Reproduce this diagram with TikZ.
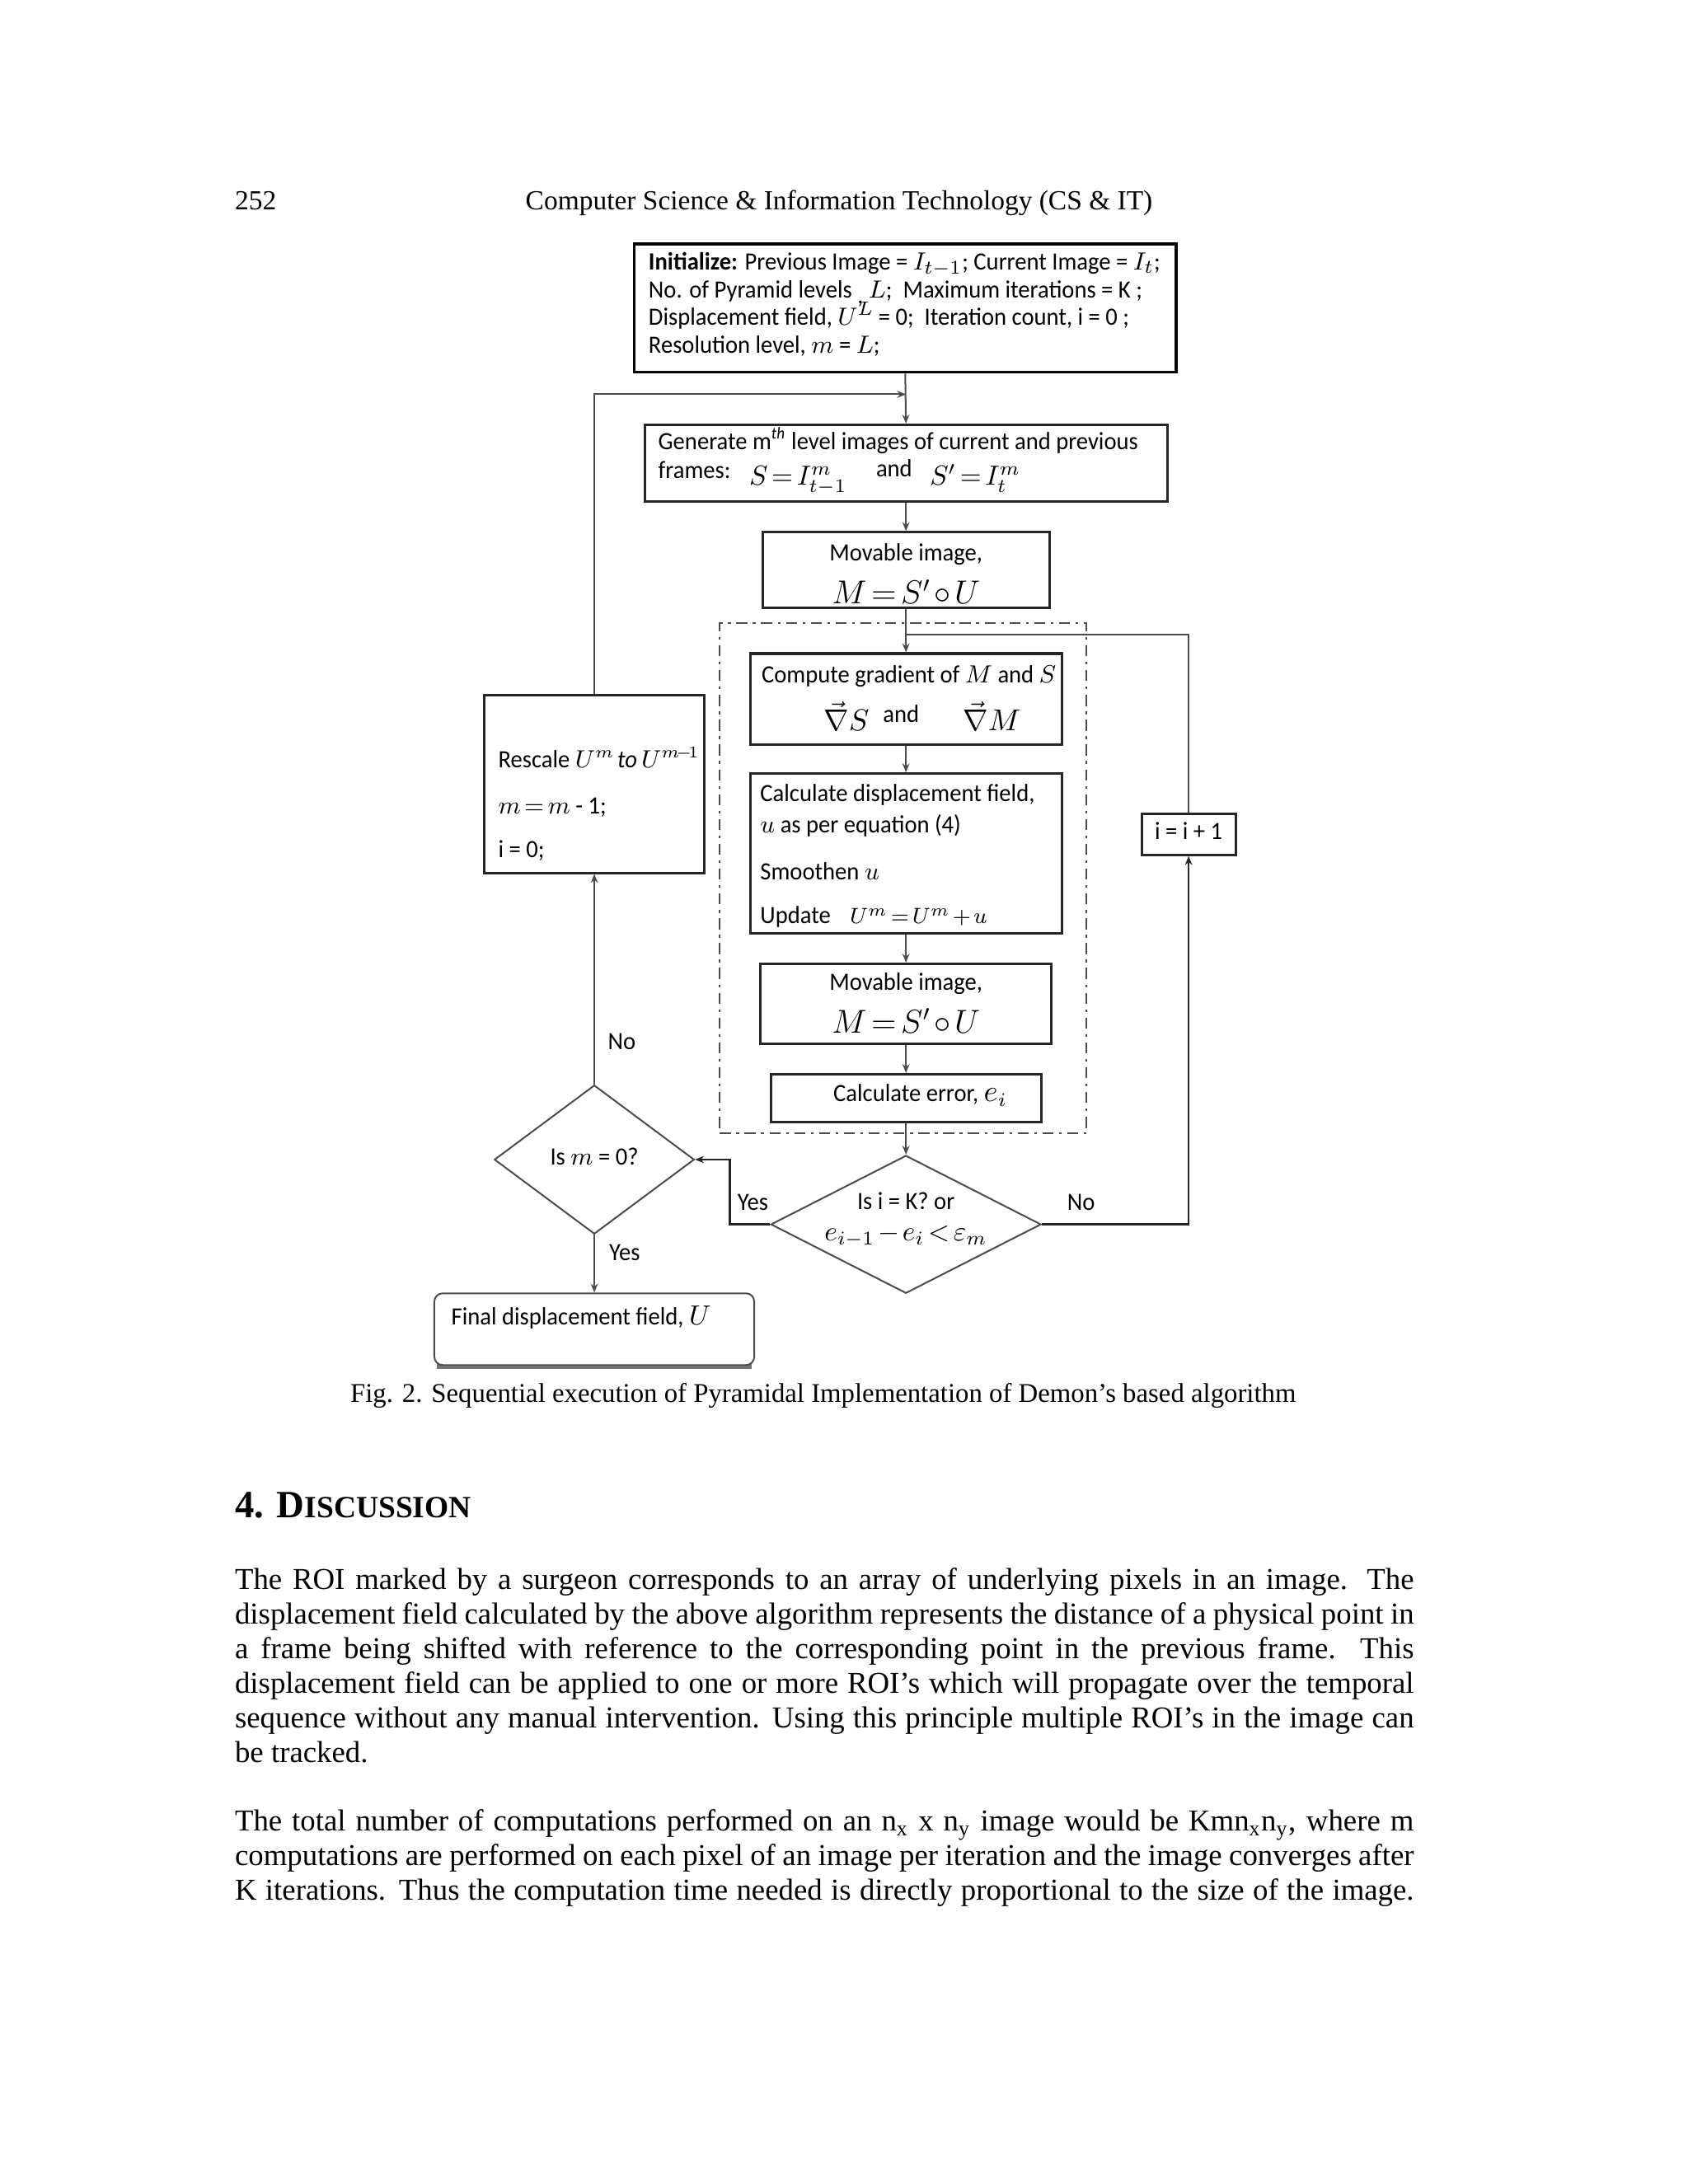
\documentclass[tikz,border=0pt]{standalone}
\usepackage{fontspec}
\setmainfont{Liberation Serif}
\newfontfamily\dgfont{Carlito}[FakeStretch=0.95]
\usetikzlibrary{shapes.geometric,arrows.meta,calc}
\newcommand\dgm[2]{{\fontsize{#1}{#1}\selectfont\thickmuskip=2.5mu plus 1mu\medmuskip=2mu plus 1mu$#2$}}
\tikzset{
  pbox/.style={rectangle, draw=black!85, line width=0.9pt, inner sep=0pt},
  dbox/.style={diamond, draw=black!70, line width=0.6pt, inner sep=0pt},
  conn/.style={draw=black!70, line width=0.6pt},
  arr/.style={conn, -{Stealth[length=3.2pt,width=2.6pt]}},
  dt/.style={font=\dgfont\fontsize{9}{10}\selectfont, inner sep=0pt, anchor=base west},
  dtc/.style={dt, anchor=base},
  bt/.style={font=\fontsize{11}{12.5}\selectfont, inner sep=0pt, anchor=base west},
}
\begin{document}
\begin{tikzpicture}[x=0.5pt,y=-0.5pt]
\fill[white] (0,0) rectangle (1224,1584);
\useasboundingbox (0,0) rectangle (1224,1584);

% header
\node[bt, font=\fontsize{10}{12}\selectfont] (pg) at (170,152) {252};
\node[bt, font=\fontsize{10}{12}\selectfont, anchor=base] (hd) at (608.5,152) {Computer Science \& Information Technology (CS \& IT)};

% group frame
\node[rectangle, draw=black!70, line width=0.6pt, dash pattern=on 4pt off 2pt on 1pt off 2pt,
      minimum width=133pt, minimum height=185pt, inner sep=0pt] (grp) at (655,637) {};

% boxes
\node[pbox, line width=1pt, draw=black, minimum width=196.5pt, minimum height=46.5pt] (init) at (656.5,223.5) {};
\node[pbox, minimum width=189.5pt, minimum height=28pt] (gen) at (657,336) {};
\node[pbox, minimum width=104pt, minimum height=27.5pt] (mov1) at (657,413.5) {};
\node[pbox, minimum width=113pt, minimum height=33pt] (comp) at (657,507) {};
\node[pbox, minimum width=113pt, minimum height=58pt] (calc) at (657,619) {};
\node[pbox, minimum width=105.5pt, minimum height=29pt] (mov2) at (657,728) {};
\node[pbox, minimum width=98pt, minimum height=17.5pt] (err) at (657,796.5) {};
\node[dbox, minimum width=98pt, minimum height=50pt] (d2) at (657,888) {};
\node[dbox, minimum width=72.5pt, minimum height=54pt] (d1) at (431,841) {};
\node[pbox, minimum width=80pt, minimum height=64.5pt] (resc) at (431,568.5) {};
\node[pbox, minimum width=34pt, minimum height=15pt] (inc) at (862,605) {};
\fill[black!55] (317,988) rectangle (545,993);
\node[pbox, draw=black!70, line width=0.6pt, rounded corners=3pt, fill=white, minimum width=116pt, minimum height=26pt] (final) at (431,964) {};

% texts in boxes
\node[dt] (t1) at (470,196) {{\bfseries Initialize:} Previous Image = \dgm{9.5}{I_{t-1}}; Current Image = \dgm{9.5}{I_t};};
\node[dt] (t2) at (470,216) {No. of Pyramid levels \raisebox{-2pt}{,} \dgm{9.5}{L}; \ Maximum iterations = K ;};
\node[dt] (t3) at (470,236) {Displacement field, \dgm{9.5}{U^{L}}\,= 0; \ Iteration count, i = 0 ;};
\node[dt] (t4) at (470,256) {Resolution level, \dgm{9.5}{m} = \dgm{9.5}{L};};

\node[dt] (g1) at (477,326) {Generate m\textsuperscript{\itshape th} level images of current and previous};
\node[dt] (g2) at (477,347) {frames:};
\node[dt] (g3) at (543,352) {\dgm{10}{S = I^{m}_{t-1}}};
\node[dt] (g4) at (635,346) {and};
\node[dt] (g5) at (674,352) {\dgm{10}{S' = I^{m}_{t}}};

\node[dtc] (m1a) at (657,407) {Movable image,};
\node[dtc] (m1b) at (657,438) {\dgm{11.5}{M = S'\circ U}};

\node[dt] (c1) at (552,495) {Compute gradient of $M$ and $S$};
\node[dt] (c2) at (597,530) {\dgm{10.5}{\vec{\nabla}S}};
\node[dt] (c3) at (640,524) {and};
\node[dt] (c4) at (698,530) {\dgm{10.5}{\vec{\nabla}M}};

\node[dt] (k1) at (551,581) {Calculate displacement field,};
\node[dt] (k2) at (551,604) {$u$ as per equation (4)};
\node[dt] (k3) at (551,638) {Smoothen $u$};
\node[dt] (k4) at (551,670) {Update};
\node[dt] (k5) at (616,670) {\dgm{8.5}{U^{m} = U^{m} + u}};

\node[dtc] (m2a) at (657,718) {Movable image,};
\node[dtc] (m2b) at (657,749) {\dgm{11.5}{M = S'\circ U}};

\node[dt] (e1) at (604,799) {Calculate error, \dgm{10.5}{e_i}};

\node[dtc] (q1) at (657,877) {Is i = K? or};
\node[dtc] (q2) at (657,900) {\dgm{10}{e_{i-1} - e_i < \varepsilon_m}};

\node[dtc] (q3) at (431,845) {Is $m$ = 0?};

\node[dt] (r1) at (361,557) {Rescale \dgm{9}{U^{m}}\kern1pt\textit{to}\kern1.5pt\dgm{9}{U^{m\!-\!1}}};
\node[dt] (r2) at (361,590) {\dgm{9}{m = m} - 1;};
\node[dt] (r3) at (361,622) {i = 0;};

\node[dtc] (i1) at (862,609) {i = i + 1};

\node[dt] (f1) at (327,961) {Final displacement field, \dgm{10}{U}};

% labels
\node[dtc] (lyes1) at (546,878) {Yes};
\node[dtc] (lno1) at (784,878) {No};
\node[dtc] (lno2) at (451,761) {No};
\node[dtc] (lyes2) at (453,914) {Yes};

% connectors
\coordinate (j1) at (657,286);
\coordinate (j2) at (657,460);
\draw[arr] (init.south) -- (gen.north);
\draw[arr] (resc.north) |- (j1);
\draw[arr] (gen.south) -- (mov1.north);
\draw[arr] (mov1.south) -- (comp.north);
\draw[arr] (comp.south) -- (calc.north);
\draw[arr] (calc.south) -- (mov2.north);
\draw[arr] (mov2.south) -- (err.north);
\draw[arr] (err.south) -- (d2.north);
\draw[arr, draw=black!85, line width=0.8pt] (d2.east) -| (inc.south);
\draw[conn] (inc.north) |- (j2);
\draw[arr, draw=black!85, line width=0.8pt] (d2.west) -- ++(-29,0) |- (d1.east);
\draw[arr] (d1.north) -- (resc.south);
\draw[arr] (d1.south) -- (final.north);

% caption
\node[font=\fontsize{9.8}{12}\selectfont, anchor=base, inner sep=0pt] (cap) at (597,1017) {Fig. 2. Sequential execution of Pyramidal Implementation of Demon's based algorithm};

% heading
\node[bt] (sec) at (170,1101) {\bfseries\fontsize{14}{14}\selectfont 4. D\fontsize{11.2}{11}\selectfont ISCUSSION};

% paragraph 1
\node[bt] (p1) at (170,1153) {\makebox[427.5pt][s]{The ROI marked by a surgeon corresponds to an array of underlying pixels in an image. The}};
\node[bt] (p2) at (170,1178) {\makebox[427.5pt][s]{displacement field calculated by the above algorithm represents the distance of a physical point in}};
\node[bt] (p3) at (170,1203) {\makebox[427.5pt][s]{a frame being shifted with reference to the corresponding point in the previous frame. This}};
\node[bt] (p4) at (170,1228) {\makebox[427.5pt][s]{displacement field can be applied to one or more ROI's which will propagate over the temporal}};
\node[bt] (p5) at (170,1253) {\makebox[427.5pt][s]{sequence without any manual intervention. Using this principle multiple ROI's in the image can}};
\node[bt] (p6) at (170,1278) {be tracked.};

% paragraph 2
\node[bt] (s1) at (170,1328) {\makebox[427.5pt][s]{The total number of computations performed on an n\textsubscript{x} x n\textsubscript{y} image would be Kmn\textsubscript{x}n\textsubscript{y}, where m}};
\node[bt] (s2) at (170,1353) {\makebox[427.5pt][s]{computations are performed on each pixel of an image per iteration and the image converges after}};
\node[bt] (s3) at (170,1378) {\makebox[427.5pt][s]{K iterations. Thus the computation time needed is directly proportional to the size of the image.}};
\end{tikzpicture}
\end{document}
